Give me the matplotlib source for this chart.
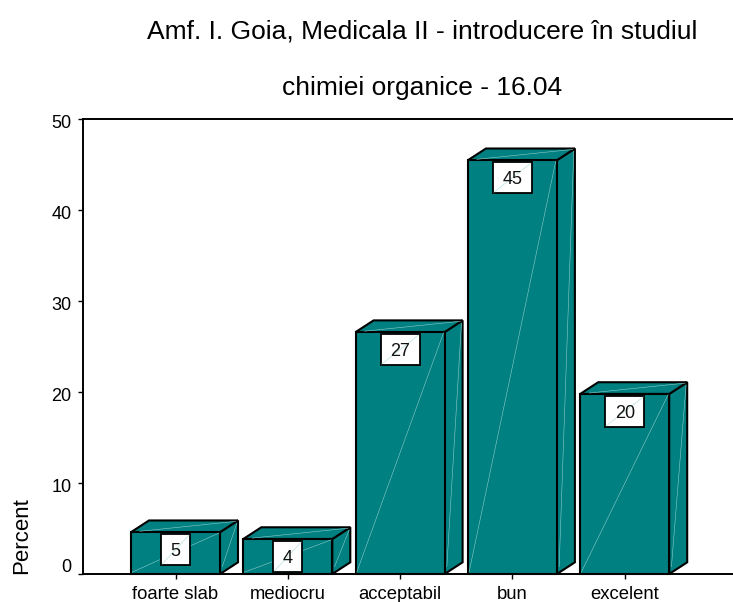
import matplotlib
matplotlib.use("Agg")
import matplotlib.pyplot as plt
from matplotlib.patches import Polygon, Rectangle
from matplotlib.transforms import IdentityTransform, Affine2D

categories = ["foarte slab", "mediocru", "acceptabil", "bun", "excelent"]
values = [4.6, 3.85, 26.6, 45.5, 19.8]
value_labels = ["5", "4", "27", "45", "20"]
y_ticks = [0, 10, 20, 30, 40, 50]
title_lines = ["Amf. I. Goia, Medicala II - introducere în studiul",
               "chimiei organice - 16.04"]

W, H = 733, 602
plt.rcParams["font.family"] = ["Liberation Sans", "DejaVu Sans"]
TEAL = "#008080"
DIAG = "#8fcccc"

fig = plt.figure(figsize=(W / 100, H / 100), dpi=100)
L, R, T, B = 82.5, 733, 119.3, 574
ax = fig.add_axes([L / W, 1 - B / H, (R - L) / W, (B - T) / H])
step = 112.3
xmin = -(175.5 - L) / step
ax.set_xlim(xmin, xmin + (R - L) / step)
ax.set_ylim(0, 50)

bw = 89 / step
dx = 18 / step
dy = 11.7 * 50 / (B - T)
edge = dict(edgecolor="black", linewidth=1.5, facecolor=TEAL, joinstyle="miter", clip_on=False)
diag = dict(color=DIAG, linewidth=0.4, clip_on=False, zorder=2.6)

for i, v in enumerate(values):
    x0, x1 = i - bw / 2, i + bw / 2
    ax.add_patch(Polygon([(x1, 0), (x1 + dx, dy), (x1 + dx, v + dy), (x1, v)], zorder=2, **edge))
    ax.add_patch(Polygon([(x0, v), (x0 + dx, v + dy), (x1 + dx, v + dy), (x1, v)], zorder=2, **edge))
    ax.plot([x0 + 0.01, x1 - 0.01], [0.2, v - 0.1], **diag)
    ax.plot([x1 + 0.02, x1 + dx - 0.01], [0.8, v + dy - 0.3], **diag)
    ax.plot([x0 + 0.08, x1 + dx - 0.02], [v + 0.1, v + dy - 0.1], **diag)
    ax.bar(i, v, width=bw, zorder=2.4, **edge)

anns = []
for i, (v, s) in enumerate(zip(values, value_labels)):
    anns.append(ax.annotate(s, xy=(i, v), xytext=(0, -13.8), textcoords="offset points",
                            ha="center", va="center", fontsize=13, color="#111111", zorder=4))

ax.set_xticks(range(len(categories)))
ax.set_xticklabels(categories, fontsize=13.3)
ax.set_yticks(y_ticks)
ax.tick_params(axis="y", length=3.3, width=1.0, pad=4.5, labelsize=13)
ax.tick_params(axis="x", length=3.5, width=1.0, pad=5)
for lab, tick in zip(ax.get_yticklabels(), y_ticks):
    if tick == 0:
        lab.set_verticalalignment("bottom")
    lab.set_transform(lab.get_transform() + Affine2D().translate(0, -2))

for s in ["top", "bottom", "left"]:
    ax.spines[s].set_linewidth(1.4)
    ax.spines[s].set_zorder(2.5)
ax.spines["right"].set_visible(False)

fig.text(22 / W, 1 - 574 / H, "Percent", rotation=90, ha="center", va="bottom", fontsize=16)
fig.text(422 / W, 1 - 31 / H, title_lines[0], ha="center", va="center", fontsize=19)
fig.text(422 / W, 1 - 88 / H, title_lines[1], ha="center", va="center", fontsize=19)

fig.canvas.draw()
rend = fig.canvas.get_renderer()
for a, v, i in zip(anns, values, range(len(values))):
    tw = a.get_window_extent(rend).width
    cx, cy = ax.transData.transform((i, v))
    hw, hh = tw / 2 + 9.5, 15.5
    cy -= 17.5
    tr = IdentityTransform()
    ax.add_patch(Rectangle((cx - hw, cy - hh), 2 * hw, 2 * hh, transform=tr, facecolor="white",
                           edgecolor="black", linewidth=1.3, zorder=3, clip_on=False))
    ax.plot([cx - hw + 1, cx + hw - 1], [cy - hh + 1, cy + hh - 1], transform=tr,
            color="#a8dada", linewidth=0.4, zorder=3.2, clip_on=False)

fig.savefig("out.png", dpi=100)
